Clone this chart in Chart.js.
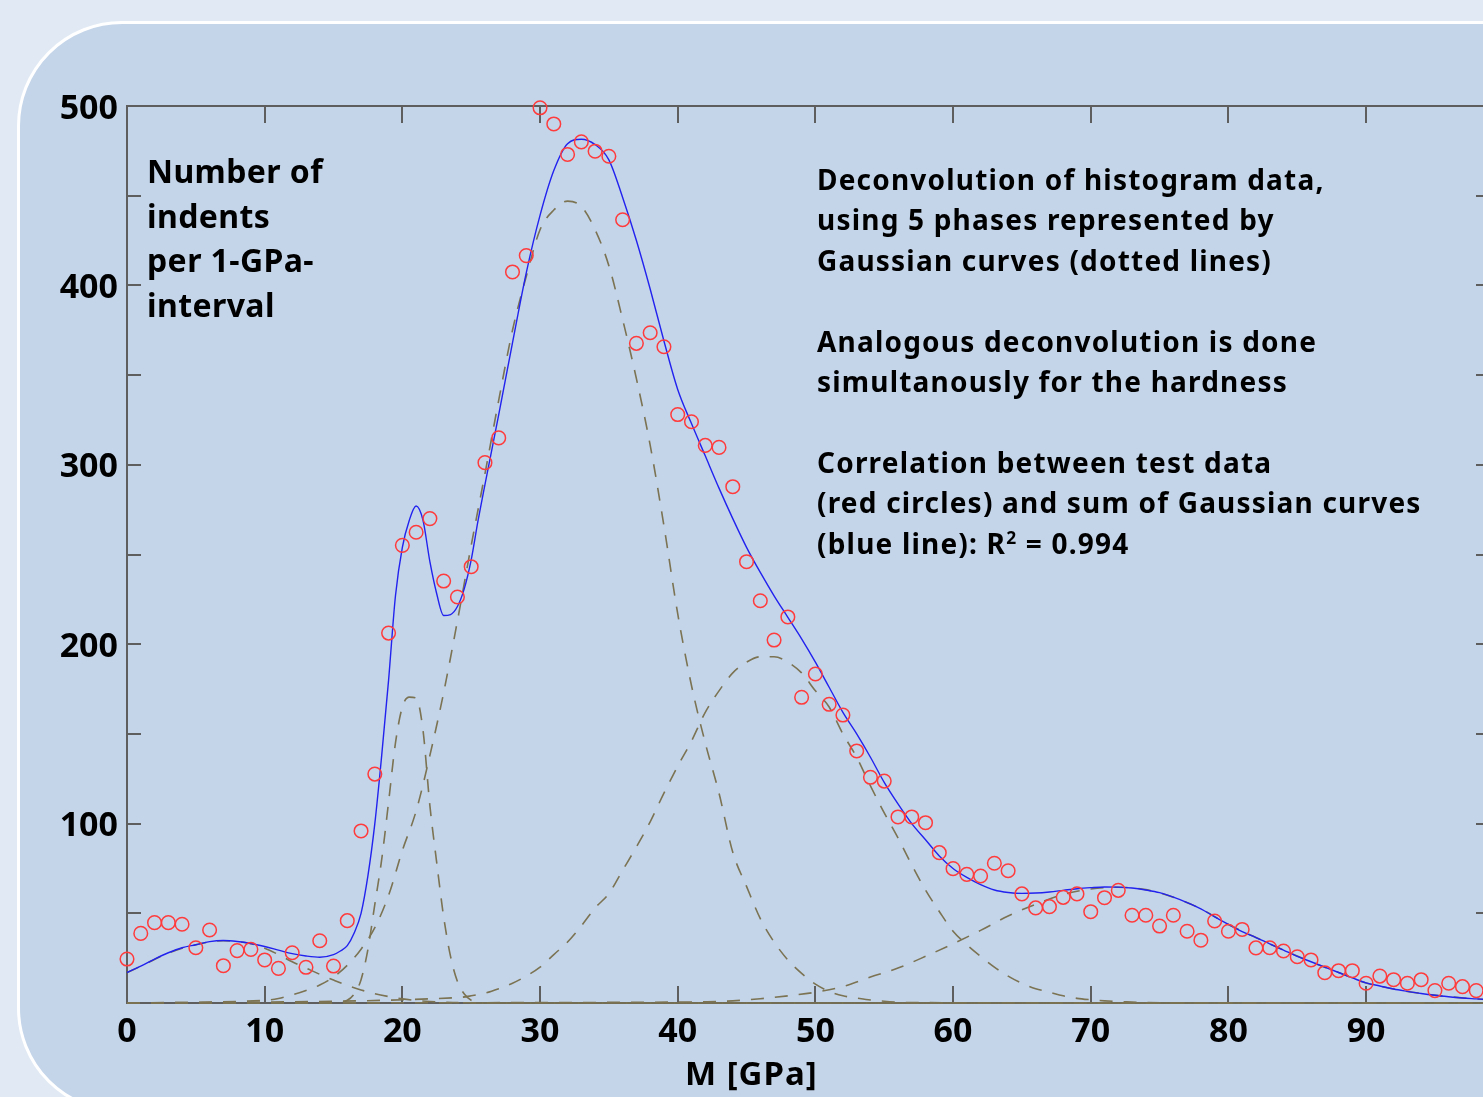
<!DOCTYPE html>
<html>
<head>
<meta charset="utf-8">
<script src="https://cdn.jsdelivr.net/npm/chart.js@4.4.0/dist/chart.umd.min.js"></script>
<style>
  html, body { margin: 0; padding: 0; width: 1483px; height: 1097px; overflow: hidden; background: #e1eaf4; font-family: "Noto Sans", sans-serif; }
  #panel { position: absolute; left: 17px; top: 21px; width: 1600px; height: 1086px; background: #c4d5ea; border: 3px solid #fff; border-radius: 105px; }
  #chart { position: absolute; left: 0; top: 0; }
  .txt { position: absolute; font-weight: bold; color: #000; white-space: pre; }
  sup { font-size: 62%; vertical-align: 0.55em; line-height: 0; }
</style>
</head>
<body>
<div id="panel"></div>
<canvas id="chart" width="1520" height="1097" style="width:1520px;height:1097px"></canvas>

<div class="txt" style="left:147px;top:149px;font-size:32px;line-height:44.7px;letter-spacing:0.4px">Number of
indents
per 1-GPa-
interval</div>

<div class="txt" style="left:817px;top:159px;font-size:28px;line-height:40.4px;letter-spacing:1.2px">Deconvolution of histogram data,
using 5 phases represented by
Gaussian curves (dotted lines)

Analogous deconvolution is done
simultanously for the hardness

Correlation between test data
(red circles) and sum of Gaussian curves
(blue line): R<sup>2</sup> = 0.994</div>

<div class="txt" style="left:685px;top:1051px;font-size:33px;line-height:44px;letter-spacing:1px">M [GPa]</div>

<script>
// ─── Data ────────────────────────────────────────────
// measured histogram (red circles), one per 1-GPa interval starting at 0
var countY = [24.5, 38.8, 44.8, 44.8, 43.9, 30.8, 40.7, 20.8, 29.2, 29.9,
  24, 19.3, 28, 19.9, 34.7, 20.6, 45.9, 95.9, 127.6, 206.2,
  255.1, 262.4, 270, 235.2, 226.3, 243.2, 301.2, 315, 407.5, 416.6,
  499, 490, 473, 480, 474.8, 472, 436.6, 367.7, 373.6, 365.8,
  328, 324, 310.8, 309.7, 287.8, 246, 224.2, 202.3, 215.2, 170.4,
  183.4, 166.5, 160.5, 140.5, 125.8, 123.7, 103.7, 103.7, 100.5, 83.8,
  74.9, 71.7, 70.8, 77.9, 73.7, 60.8, 53, 53.7, 58.9, 60.8,
  50.9, 58.7, 62.8, 48.9, 48.9, 42.9, 48.9, 40, 35, 45.7,
  40, 41, 30.7, 30.8, 29, 25.8, 24, 16.9, 18, 18,
  11, 15, 13, 11, 13, 6.9, 11, 9.1, 6.9];

// sum of Gaussians (blue line)
var fitX = [0, 1, 2, 3, 4, 5, 6, 7, 8, 9, 10, 11, 12, 13, 14,
  15, 15.5, 16, 16.5, 17, 17.5, 18, 18.5, 19, 19.5, 20, 20.5, 21, 21.5, 22, 22.5, 23, 23.5, 24, 24.5, 25, 25.5, 26,
  27, 28, 29, 30, 31, 32, 33, 34, 35, 36, 37, 38, 39, 40, 41, 42, 43, 44, 45, 46, 47, 48, 49, 50,
  51, 52, 53, 54, 55, 56, 57, 58, 59, 60, 61, 62, 63, 64, 65, 66, 67, 68, 69, 70, 71, 72, 73, 74, 75,
  76, 77, 78, 79, 80, 81, 82, 83, 84, 85, 86, 87, 88, 89, 90, 91, 92, 93, 94, 95, 96, 97, 98, 99];
var fitY = [17, 20.5, 24.5, 28, 30.8, 32.5, 34.2, 34.8, 34.3, 33.2, 31.5, 29.5, 27.5, 26.2, 25.5,
  27, 29, 32, 39, 50, 71, 100, 138, 180, 227, 254, 269, 277, 269, 246, 228, 216, 216.5, 221, 231, 247, 269, 289,
  328, 368, 407, 439, 464, 479, 481.5, 478.5, 470, 449, 425, 398, 369, 342, 323, 305, 287, 270, 254, 240, 227, 215, 203, 190,
  176, 162, 150, 137, 123, 111, 100, 91, 82, 75, 70, 66, 63, 61.6, 61.1, 61.3, 61.9, 62.8, 63.7, 64.3, 64.7, 64.6, 64.1, 63, 61.5,
  59, 56, 52.5, 48, 43.8, 39.8, 36.5, 33, 29.5, 26, 23, 20, 17, 14, 11.2, 9.5, 7.8, 6.5, 5.3, 4.3, 3.5, 2.8, 2.3, 1.8];

// the five Gaussian phases (dashed)
var g1X = [0, 1, 2, 3, 4, 5, 6, 7, 8, 9, 10, 11, 12, 13, 14, 15, 16, 17, 18, 19, 20, 21, 22, 23, 24, 25, 99];
var g1Y = [17, 20.5, 24.3, 27.8, 30.5, 32.5, 34, 34.7, 34.3, 33, 30.5, 27, 23, 19.5, 16, 12.8, 9.8, 7.3, 5.2, 3.6, 2.3, 1.4, 0.8, 0.4, 0.2, 0, 0];

var g2X = [0, 15, 16, 16.5, 17, 17.5, 18, 18.5, 19, 19.5, 20, 20.5, 21, 21.5, 22, 22.5, 23, 23.5, 24, 24.5, 25, 26, 99];
var g2Y = [0, 0, 1.5, 5, 13, 30, 55, 80, 112, 145, 165, 170.5, 170, 152, 110, 78, 48, 26, 12, 5, 1.5, 0, 0];

var g3X = [0, 10, 11, 12, 13, 14, 15, 16, 17, 18, 19, 20, 21, 22, 23, 24, 25, 26, 27, 28, 29, 30,
  31, 32, 33, 34, 35, 36, 37, 38, 39, 40, 41, 42, 43, 44, 45, 46, 47, 48, 49, 50, 51, 52, 53, 54, 55, 56, 57, 99];
var g3Y = [0, 1.5, 2.5, 4.5, 7, 10, 14.5, 21, 30, 42, 60, 85, 107, 138, 173, 213, 255, 295, 336, 375, 405, 431,
  442, 447, 444, 431, 411, 381, 348, 311, 266, 217, 177, 145, 117, 84, 65, 47, 34, 24, 16.5, 10.5, 6.5, 4, 2.8, 1.7, 1, 0.5, 0.2, 0];

var g4X = [0, 24, 25, 26, 27, 28, 29, 30, 31, 32, 33, 34, 35, 36, 37, 38, 39, 40, 41, 42, 43, 44, 45, 46, 47, 48, 49,
  50, 51, 52, 53, 54, 55, 56, 57, 58, 59, 60, 61, 62, 63, 64, 65, 66, 67, 68, 69, 70, 71, 72, 73, 74, 99];
var g4Y = [0, 3, 4, 5.5, 8, 11, 15, 20, 27, 34, 43, 53, 61, 74, 87, 101, 117, 132, 146, 162, 174, 184, 190, 193, 193, 190, 184,
  174, 165, 150, 137, 121, 106, 92, 77, 63, 51, 40, 32.5, 26, 20, 15, 11, 8, 6, 4, 2.6, 1.8, 1.2, 0.8, 0.5, 0.2, 0];

var g5X = [0, 40, 42, 44, 46, 48, 50, 52, 54, 56, 58, 60, 62, 64, 66, 68, 70, 72, 74, 76, 78, 80, 82, 84, 86, 88, 90, 92, 94, 96, 98, 99];
var g5Y = [0, 0.5, 0.7, 1.2, 2.4, 4, 6, 9.2, 14.5, 19.5, 26, 33, 40.5, 48.5, 55, 60.5, 63.5, 64.5, 63.2, 59, 52.5, 43.8, 36.5, 29.5, 23, 17, 11.2, 7.8, 5.3, 3.5, 2.3, 1.8];

var xTicks = [0, 10, 20, 30, 40, 50, 60, 70, 80, 90];
var yTicks = [0, 50, 100, 150, 200, 250, 300, 350, 400, 450, 500];

// ─── Helpers ─────────────────────────────────────────
function pts(xs, ys) {
  return xs.map(function(x, i) { return { x: x, y: ys[i] }; });
}

function dashed(xs, ys) {
  return {
    type: 'line', data: pts(xs, ys),
    borderColor: '#7b7352', borderWidth: 1.6, borderDash: [13, 11],
    pointRadius: 0, cubicInterpolationMode: 'monotone', fill: false, clip: false, order: 3
  };
}

// frame + inward ticks, drawn under the curves
var framePlugin = {
  id: 'frame',
  beforeDatasetsDraw: function(chart) {
    var a = chart.chartArea, ctx = chart.ctx;
    var xs = chart.scales.x, ys = chart.scales.y;
    ctx.save();
    ctx.strokeStyle = '#5e5e5e';
    ctx.lineWidth = 2;
    ctx.strokeRect(a.left, a.top, a.right - a.left, a.bottom - a.top);
    ctx.beginPath();
    xTicks.forEach(function(v) {
      var px = Math.round(xs.getPixelForValue(v));
      ctx.moveTo(px, a.bottom); ctx.lineTo(px, a.bottom - 17);
      ctx.moveTo(px, a.top); ctx.lineTo(px, a.top + 17);
    });
    yTicks.forEach(function(v) {
      var py = Math.round(ys.getPixelForValue(v));
      ctx.moveTo(a.left, py); ctx.lineTo(a.left + 14, py);
      ctx.moveTo(a.right, py); ctx.lineTo(a.right - 14, py);
    });
    ctx.stroke();
    ctx.restore();
  }
};

// ─── Chart ───────────────────────────────────────────
var ctx = document.getElementById('chart').getContext('2d');
new Chart(ctx, {
  type: 'scatter',
  data: {
    datasets: [
      dashed(g1X, g1Y), dashed(g2X, g2Y), dashed(g3X, g3Y), dashed(g4X, g4Y), dashed(g5X, g5Y),
      {
        type: 'line', data: pts(fitX, fitY),
        borderColor: '#2222ee', borderWidth: 1.4, pointRadius: 0,
        cubicInterpolationMode: 'monotone', fill: false, clip: false, order: 2
      },
      {
        type: 'scatter', data: countY.map(function(v, i) { return { x: i, y: v }; }),
        pointRadius: 6.8, pointBorderWidth: 1.5, borderColor: '#ff3b3b', pointBorderColor: '#ff3b3b',
        backgroundColor: 'rgba(0,0,0,0)', pointBackgroundColor: 'rgba(0,0,0,0)',
        clip: false, order: 1
      }
    ]
  },
  options: {
    responsive: false, animation: false, devicePixelRatio: 1,
    layout: { padding: { top: 106, left: 0, right: 30, bottom: 0 } },
    plugins: { legend: { display: false }, tooltip: { enabled: false } },
    scales: {
      x: {
        type: 'linear', min: 0, max: 99,
        grid: { display: false, drawTicks: false }, border: { display: false },
        afterFit: function(s) { s.height = 94; },
        ticks: {
          stepSize: 10, autoSkip: false, maxRotation: 0, padding: 9, color: '#000',
          font: { family: 'Noto Sans', size: 34, weight: 'bold' },
          callback: function(v) { return v % 10 === 0 ? v : ''; }
        }
      },
      y: {
        min: 0, max: 500,
        grid: { display: false, drawTicks: false }, border: { display: false },
        afterFit: function(s) { s.width = 127; },
        ticks: {
          stepSize: 100, padding: 9, labelOffset: 3, color: '#000',
          font: { family: 'Noto Sans', size: 34, weight: 'bold' },
          callback: function(v) { return v > 0 ? v : ''; }
        }
      }
    }
  },
  plugins: [framePlugin]
});
</script>
</body>
</html>
